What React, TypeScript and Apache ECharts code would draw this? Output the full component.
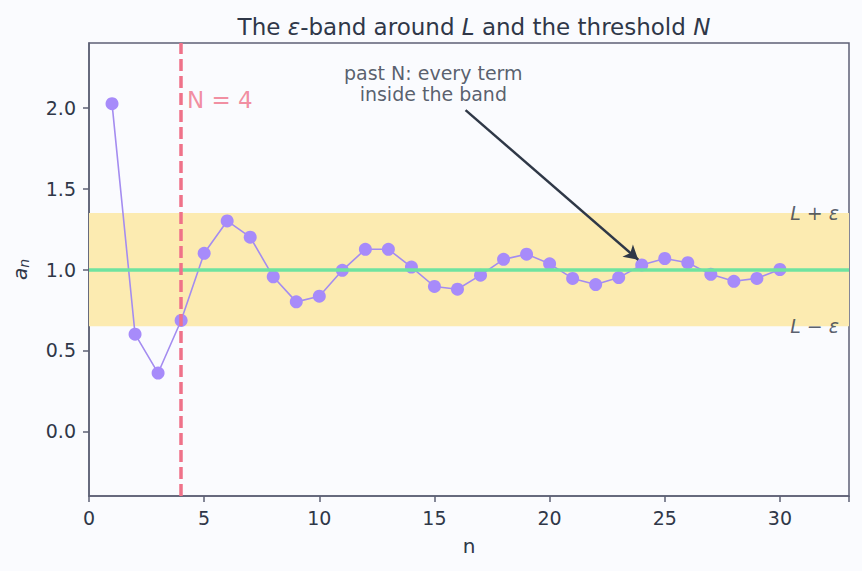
import React, { useEffect, useRef } from "react";
import * as echarts from "echarts";

const nValues = [1,2,3,4,5,6,7,8,9,10,11,12,13,14,15,16,17,18,19,20,21,22,23,24,25,26,27,28,29,30];
const aValues = [2.025,0.6,0.36,0.685,1.1,1.3,1.2,0.955,0.8,0.835,0.995,1.125,1.125,1.015,0.895,0.878,0.965,1.063,1.095,1.035,0.945,0.907,0.95,1.028,1.068,1.042,0.97,0.927,0.945,1.0];
const L = 1.0;
const EPS = 0.35;
const N_THRESHOLD = 4;
const yTicks = [0, 0.5, 1.0, 1.5, 2.0];
const annotationText = "past N: every term\ninside the band";
const annotationAt = [14.95, 2.15];
const arrowFrom = [16.35, 1.985];
const arrowTo = [23.85, 1.06];
const nLabelAt = [4.25, 2.05];

const FONT = "DejaVu Sans";
const TEXT = "#2f3748";
const AXIS = "#5d6075";

export default function App() {
  const ref = useRef<HTMLDivElement>(null);
  useEffect(() => {
    const chart = echarts.init(ref.current!, null, { renderer: "svg" });
    chart.setOption({
      animation: false,
      backgroundColor: "#fafbfe",
      textStyle: { fontFamily: FONT },
      title: {
        text: "The {i|ε}-band around {i|L} and the threshold {i|N}",
        left: 469,
        top: 10,
        textAlign: "center",
        textStyle: {
          fontFamily: FONT,
          fontSize: 23,
          fontWeight: "normal",
          color: TEXT,
          rich: { i: { fontFamily: FONT, fontSize: 23, fontStyle: "italic", color: TEXT } },
        },
      },
      grid: {
        left: 89,
        right: 13,
        top: 43,
        bottom: 75,
        show: true,
        borderColor: AXIS,
        borderWidth: 1.5,
        backgroundColor: "transparent",
      },
      xAxis: {
        type: "value",
        min: 0,
        max: 33,
        interval: 5,
        name: "n",
        nameLocation: "middle",
        nameGap: 40,
        nameTextStyle: { fontFamily: FONT, fontSize: 20, color: TEXT },
        axisLine: { show: true, onZero: false, lineStyle: { color: AXIS, width: 1.5 } },
        axisTick: { show: true, length: 6, lineStyle: { color: AXIS, width: 1.5 } },
        axisLabel: {
          fontFamily: FONT,
          fontSize: 19,
          color: TEXT,
          margin: 12,
          formatter: (v: number) => (v <= 30 ? String(v) : ""),
        },
        splitLine: { show: false },
      },
      yAxis: {
        type: "value",
        min: -0.4,
        max: 2.4,
        name: "{a|a}{s|n}",
        nameLocation: "middle",
        nameGap: 58,
        nameRotate: 90,
        nameTextStyle: {
          fontFamily: FONT,
          color: TEXT,
          rich: {
            a: { fontFamily: FONT, fontSize: 20, fontStyle: "italic", color: TEXT },
            s: { fontFamily: FONT, fontSize: 14, fontStyle: "italic", color: TEXT, padding: [9, 0, 0, 0] },
          },
        },
        axisLine: { show: true, onZero: false, lineStyle: { color: AXIS, width: 1.5 } },
        axisTick: { show: true, length: 6, customValues: yTicks, lineStyle: { color: AXIS, width: 1.5 } },
        axisLabel: {
          fontFamily: FONT,
          fontSize: 19,
          color: TEXT,
          margin: 13,
          customValues: yTicks,
          formatter: (v: number) => v.toFixed(1),
        },
        splitLine: { show: false },
      },
      series: [
        {
          type: "line",
          data: [],
          silent: true,
          z: 1,
          markArea: {
            silent: true,
            itemStyle: { color: "#fcebb1" },
            data: [[{ yAxis: L - EPS }, { yAxis: L + EPS }]],
          },
          markLine: {
            silent: true,
            symbol: "none",
            label: { show: false },
            data: [
              { yAxis: L, lineStyle: { color: "#6fe3a0", width: 3.5, type: "solid" } },
            ],
          },
        },
        {
          type: "line",
          data: [],
          silent: true,
          z: 2,
          markLine: {
            silent: true,
            symbol: "none",
            label: { show: false },
            data: [
              { xAxis: N_THRESHOLD, lineStyle: { color: "#ef7289", width: 3.5, type: [12, 5] } },
            ],
          },
        },
        {
          type: "line",
          z: 3,
          data: nValues.map((n, i) => [n, aValues[i]]),
          lineStyle: { color: "#a48cf0", width: 1.6 },
          itemStyle: { color: "#a78bfa" },
          symbol: "circle",
          symbolSize: 13,
          showSymbol: true,
        },
        {
          type: "scatter",
          z: 5,
          symbolSize: 0,
          silent: true,
          data: [
            { value: nLabelAt, label: { show: true, position: "right", distance: 0, formatter: "N = 4", fontFamily: FONT, fontSize: 23, color: "#ef7289" } },
            { value: annotationAt, label: { show: true, position: "inside", formatter: annotationText, align: "center", lineHeight: 21, fontFamily: FONT, fontSize: 19, color: TEXT } },
            { value: [33, L + EPS], label: { show: true, position: "left", distance: 10, formatter: "{i|L} + {i|ε}", fontFamily: FONT, fontSize: 19, color: TEXT, rich: { i: { fontFamily: FONT, fontSize: 19, fontStyle: "italic", color: TEXT } } } },
            { value: [33, L - EPS], label: { show: true, position: "left", distance: 10, formatter: "{i|L} − {i|ε}", fontFamily: FONT, fontSize: 19, color: TEXT, rich: { i: { fontFamily: FONT, fontSize: 19, fontStyle: "italic", color: TEXT } } } },
          ],
          markLine: {
            silent: true,
            label: { show: false },
            lineStyle: { color: "#2f3847", width: 2.5, type: "solid" },
            data: [
              [
                { coord: arrowFrom, symbol: "none" },
                { coord: arrowTo, symbol: "arrow", symbolSize: [12, 14] },
              ],
            ],
          },
        },
      ],
    });
    return () => chart.dispose();
  }, []);
  return <div ref={ref} style={{ width: 862, height: 571, position: "absolute", left: 0, top: 0 }} />;
}
